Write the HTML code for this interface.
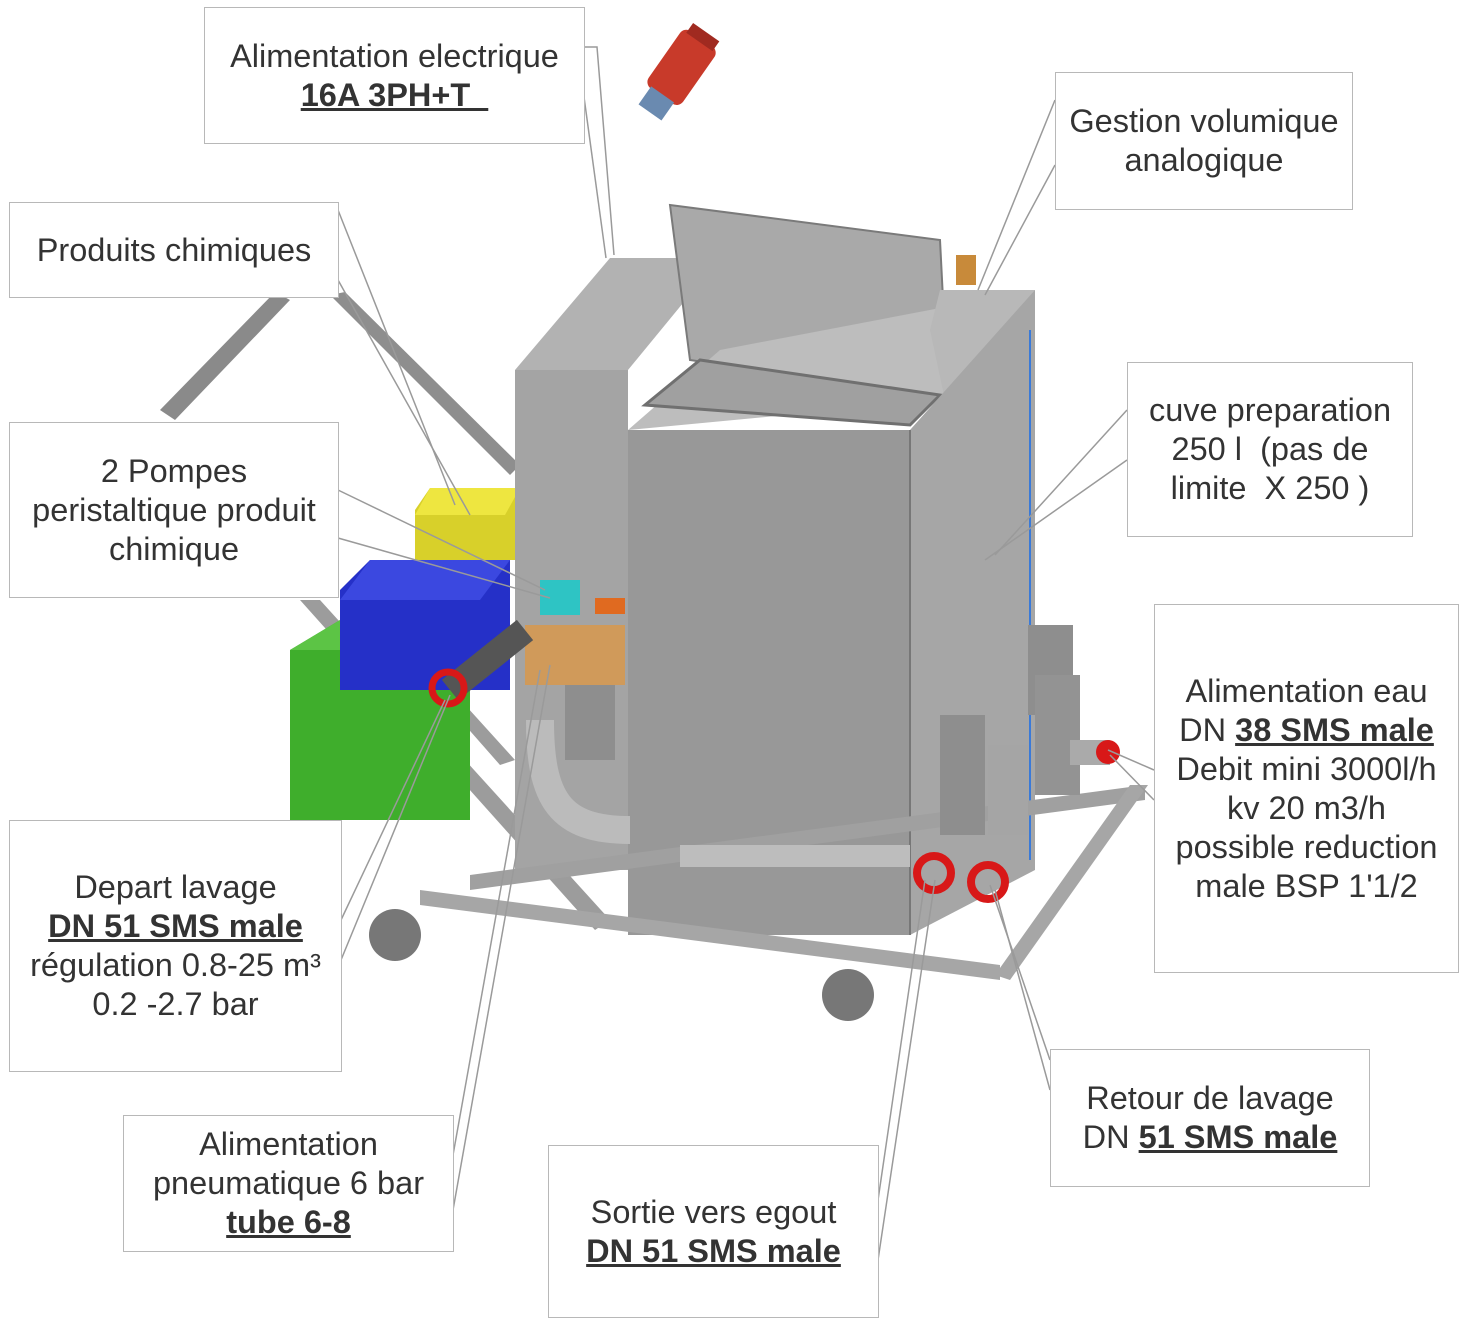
<!DOCTYPE html>
<html><head><meta charset="utf-8"><style>
html,body{margin:0;padding:0;background:#fff}
body{width:1465px;height:1325px;position:relative;overflow:hidden;font-family:"Liberation Sans",sans-serif}
svg{position:absolute;left:0;top:0}
.b{position:absolute;background:#fff;border:1.5px solid #b8b8b8;box-sizing:border-box;color:#333;font-size:32.5px;line-height:39px;text-align:center;display:flex;flex-direction:column;justify-content:center;white-space:nowrap}
.u{font-weight:bold;text-decoration:underline}
</style></head><body>
<svg width="1465" height="1325" viewBox="0 0 1465 1325">
<!-- back diagonal frame -->
<polygon points="160,410 175,420 290,300 275,292" fill="#8a8a8a"/>
<polygon points="330,295 345,292 520,465 510,475" fill="#8e8e8e"/>
<polygon points="300,600 320,600 610,920 595,930" fill="#9c9c9c"/>
<polygon points="355,600 370,600 515,760 500,765" fill="#9c9c9c"/>
<!-- canisters -->
<polygon points="290,650 340,620 470,620 470,820 290,820" fill="#3fae2c"/>
<polygon points="290,650 340,620 470,620 440,650" fill="#5cc445"/>
<polygon points="340,590 370,560 510,560 510,690 340,690" fill="#2530c8"/>
<polygon points="340,600 370,560 510,560 480,600" fill="#3b48e0"/>
<polygon points="415,510 430,488 520,488 520,560 415,560" fill="#d8d02a"/>
<polygon points="415,515 430,488 520,488 505,515" fill="#eee640"/>
<!-- left back box -->
<polygon points="515,370 610,258 720,258 628,370" fill="#b2b2b2"/>
<rect x="515" y="370" width="113" height="500" fill="#a4a4a4"/>
<!-- lid -->
<polygon points="670,205 940,240 948,398 690,360" fill="#a9a9a9" stroke="#7a7a7a" stroke-width="2"/>
<!-- tank top -->
<polygon points="628,430 720,350 1035,290 945,400" fill="#bdbdbd"/>
<polygon points="645,405 700,360 940,395 910,425" fill="#a0a0a0" stroke="#707070" stroke-width="3"/>
<polygon points="940,290 1035,290 945,400 930,330" fill="#b8b8b8"/>
<!-- tank front -->
<rect x="628" y="430" width="282" height="505" fill="#989898"/>
<polygon points="910,430 1035,290 1035,870 910,935" fill="#a6a6a6"/>
<line x1="1030" y1="330" x2="1030" y2="860" stroke="#3a7ad8" stroke-width="2"/>
<line x1="910" y1="430" x2="910" y2="935" stroke="#777" stroke-width="2"/>
<!-- sensor -->
<rect x="956" y="255" width="20" height="30" fill="#c88a3a"/>
<!-- bottom frame -->
<polygon points="470,875 1145,785 1145,800 470,890" fill="#a0a0a0"/>
<polygon points="420,890 1000,965 1000,980 420,905" fill="#a6a6a6"/>
<polygon points="1130,785 1148,785 1010,980 995,975" fill="#a6a6a6"/>
<rect x="680" y="845" width="230" height="22" fill="#bdbdbd"/>
<!-- pipes left -->
<path d="M540 720 C540 800 560 830 630 830" stroke="#bbb" stroke-width="28" fill="none"/>
<rect x="565" y="640" width="50" height="120" fill="#8e8e8e"/>
<rect x="525" y="625" width="100" height="60" fill="#d09a5a"/>
<rect x="540" y="580" width="40" height="35" fill="#2ec4c4"/>
<rect x="595" y="598" width="30" height="16" fill="#e06a20"/>
<line x1="450" y1="690" x2="525" y2="630" stroke="#555" stroke-width="26"/>
<circle cx="448" cy="688" r="16" fill="none" stroke="#d81818" stroke-width="7"/>
<!-- right valves -->
<rect x="940" y="715" width="45" height="120" fill="#8e8e8e"/>
<rect x="1028" y="625" width="45" height="90" fill="#8e8e8e"/>
<rect x="1035" y="675" width="45" height="120" fill="#939393"/>
<rect x="988" y="745" width="40" height="90" fill="#a5a5a5"/>
<rect x="1070" y="740" width="40" height="25" fill="#aaa"/>
<circle cx="1108" cy="752" r="12" fill="#d81818"/>
<circle cx="934" cy="873" r="17" fill="none" stroke="#d81818" stroke-width="8"/>
<circle cx="988" cy="882" r="17" fill="none" stroke="#d81818" stroke-width="8"/>
<!-- wheels -->
<circle cx="395" cy="935" r="26" fill="#777"/>
<circle cx="848" cy="995" r="26" fill="#777"/>
<!-- plug -->
<g transform="rotate(35 675 75)">
<rect x="655" y="30" width="42" height="70" rx="8" fill="#c83a2a"/>
<rect x="660" y="22" width="32" height="12" fill="#a02a20"/>
<rect x="662" y="98" width="28" height="22" fill="#6a8ab0"/>
</g>
<!-- leader lines -->
<g stroke="#9a9a9a" stroke-width="1.5" fill="none">
<polyline points="584,47 597,47 614,255"/><polyline points="584,97 584,143"/><line x1="584" y1="97" x2="606" y2="258"/>
<polyline points="1055,100 978,290"/><polyline points="1055,165 985,295"/>
<polyline points="338,210 455,505"/><polyline points="338,280 470,515"/>
<polyline points="338,490 545,590"/><polyline points="338,538 550,598"/>
<polyline points="1127,460 985,560"/><polyline points="1127,410 995,555"/>
<polyline points="1154,800 1110,755"/><polyline points="1154,770 1108,750"/>
<polyline points="341,920 445,700"/><polyline points="341,960 450,695"/>
<polyline points="453,1155 540,670"/><polyline points="453,1210 550,665"/>
<polyline points="878,1200 925,880"/><polyline points="878,1260 935,880"/>
<polyline points="1050,1090 995,890"/><polyline points="1050,1060 990,885"/>
</g>
</svg>
<div class="b" style="left:204px;top:7px;width:381px;height:137px"><div>Alimentation electrique</div><div class="u">16A 3PH+T&nbsp;&nbsp;</div></div>
<div class="b" style="left:1055px;top:72px;width:298px;height:138px"><div>Gestion volumique</div><div>analogique</div></div>
<div class="b" style="left:9px;top:202px;width:330px;height:96px"><div>Produits chimiques</div></div>
<div class="b" style="left:9px;top:422px;width:330px;height:176px"><div>2 Pompes</div><div>peristaltique produit</div><div>chimique</div></div>
<div class="b" style="left:1127px;top:362px;width:286px;height:175px"><div>cuve preparation</div><div>250 l &nbsp;(pas de</div><div>limite &nbsp;X 250 )</div></div>
<div class="b" style="left:1154px;top:604px;width:305px;height:369px"><div>Alimentation eau</div><div>DN <span class="u">38 SMS male</span></div><div>Debit mini 3000l/h</div><div>kv 20 m3/h</div><div>possible reduction</div><div>male BSP 1'1/2</div></div>
<div class="b" style="left:9px;top:820px;width:333px;height:252px"><div>Depart lavage</div><div class="u">DN 51 SMS male</div><div>régulation 0.8-25 m³</div><div>0.2 -2.7 bar</div></div>
<div class="b" style="left:123px;top:1115px;width:331px;height:137px"><div>Alimentation</div><div>pneumatique 6 bar</div><div class="u">tube 6-8</div></div>
<div class="b" style="left:548px;top:1145px;width:331px;height:173px"><div>Sortie vers egout</div><div class="u">DN 51 SMS male</div></div>
<div class="b" style="left:1050px;top:1049px;width:320px;height:138px"><div>Retour de lavage</div><div>DN <span class="u">51 SMS male</span></div></div>
</body></html>
